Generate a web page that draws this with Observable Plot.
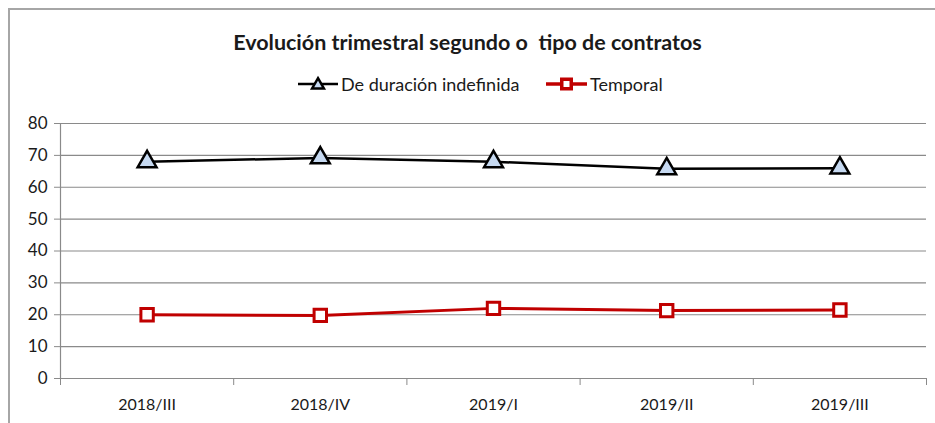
<!DOCTYPE html>
<html><head><meta charset="utf-8">
<script src="https://cdn.jsdelivr.net/npm/d3@7"></script>
<script src="https://cdn.jsdelivr.net/npm/@observablehq/plot@0.6"></script>
<style>
body{margin:0;background:#fff;font-family:Lato,"Liberation Sans",sans-serif;color:#1a1a1a;}
#wrap{position:relative;width:935px;height:423px;overflow:hidden;background:#fff;}
#border{position:absolute;left:8px;top:8px;width:1000px;height:1000px;border-left:2px solid #a6a6a6;border-top:2px solid #a6a6a6;}
#title{position:absolute;top:29px;left:0;width:935px;text-align:center;font-weight:bold;font-size:21.5px;line-height:26px;white-space:pre;}
.leg{position:absolute;top:74px;display:flex;align-items:center;font-size:18px;height:20px;}
.leg svg{display:block;}
#chart{position:absolute;top:113px;left:0;}
</style></head>
<body>
<div id="wrap">
  <div id="border"></div>
  <div id="title"></div>
  <div class="leg" id="leg1" style="left:298px"></div>
  <div class="leg" id="leg2" style="left:546px"></div>
  <div id="chart"></div>
</div>
<script>
const titleText = "Evolución trimestral segundo o  tipo de contratos";
const categories = ["2018/III", "2018/IV", "2019/I", "2019/II", "2019/III"];
const seriesNames = ["De duración indefinida", "Temporal"];
const indefinida = [68.0, 69.2, 68.0, 65.8, 66.0];
const temporal = [20.0, 19.8, 22.0, 21.3, 21.5];
const yTicks = [0, 10, 20, 30, 40, 50, 60, 70, 80];

const idx = d3.range(categories.length);
const boundaries = d3.range(categories.length + 1).map(i => i - 0.5);
const data1 = idx.map(i => ({i, v: indefinida[i]}));
const data2 = idx.map(i => ({i, v: temporal[i]}));

document.getElementById("title").textContent = titleText;

function legendItem(el, name, color, shape, lw) {
  const ns = "http://www.w3.org/2000/svg";
  const svg = document.createElementNS(ns, "svg");
  svg.setAttribute("width", lw); svg.setAttribute("height", 20);
  const line = document.createElementNS(ns, "line");
  line.setAttribute("x1", 0); line.setAttribute("x2", lw);
  line.setAttribute("y1", 10); line.setAttribute("y2", 10);
  line.setAttribute("stroke", color); line.setAttribute("stroke-width", shape === "tri" ? 2.5 : 3.5);
  svg.appendChild(line);
  const p = document.createElementNS(ns, "path");
  const sym = shape === "tri" ? d3.symbolTriangle : d3.symbolSquare;
  p.setAttribute("d", d3.symbol(sym, shape === "tri" ? 60 : 90)());
  p.setAttribute("transform", `translate(${lw/2},${shape === "tri" ? 11 : 10})`);
  p.setAttribute("fill", shape === "tri" ? "#c6d9f1" : "#fff");
  p.setAttribute("stroke", color); p.setAttribute("stroke-width", shape === "tri" ? 2.5 : 3.5);
  svg.appendChild(p);
  el.appendChild(svg);
  const s = document.createElement("span");
  s.textContent = name; s.style.marginLeft = "3px";
  el.appendChild(s);
}
legendItem(document.getElementById("leg1"), seriesNames[0], "#000", "tri", 40);
legendItem(document.getElementById("leg2"), seriesNames[1], "#c00000", "sq", 41);

const chart = Plot.plot({
  width: 935,
  height: 310,
  marginLeft: 60,
  marginRight: 9,
  marginTop: 10,
  marginBottom: 45,
  style: {fontFamily: "Lato, 'Liberation Sans', sans-serif", fontSize: "16px", color: "#1a1a1a", background: "transparent"},
  x: {type: "linear", domain: [-0.5, categories.length - 0.5]},
  y: {domain: [0, 80]},
  marks: [
    Plot.gridY(yTicks, {stroke: "#8a8a8a", strokeOpacity: 1, strokeWidth: 1.2}),
    Plot.ruleX([-0.5], {y1: 0, y2: 80, stroke: "#8a8a8a", strokeWidth: 1.2}),
    Plot.axisY(yTicks, {tickSize: 6, tickPadding: 7, stroke: "#8a8a8a", fill: "#1a1a1a", fontSize: 17, label: null}),
    Plot.axisX(boundaries, {tickSize: 7, tickFormat: () => "", stroke: "#8a8a8a", label: null}),
    Plot.axisX(idx, {tickSize: 0, tickPadding: 20, tickFormat: i => categories[i], fill: "#1a1a1a", fontSize: 16, label: null}),
    Plot.line(data1, {x: "i", y: "v", stroke: "#000", strokeWidth: 2.5}),
    Plot.line(data2, {x: "i", y: "v", stroke: "#c00000", strokeWidth: 3}),
    Plot.dot(data1, {x: "i", y: "v", symbol: "triangle", r: 7, fill: "#c6d9f1", stroke: "#000", strokeWidth: 2.5}),
    Plot.dot(data2, {x: "i", y: "v", symbol: "square", r: 7, fill: "#fff", stroke: "#c00000", strokeWidth: 3})
  ]
});
document.getElementById("chart").appendChild(chart);
</script>
</body></html>
